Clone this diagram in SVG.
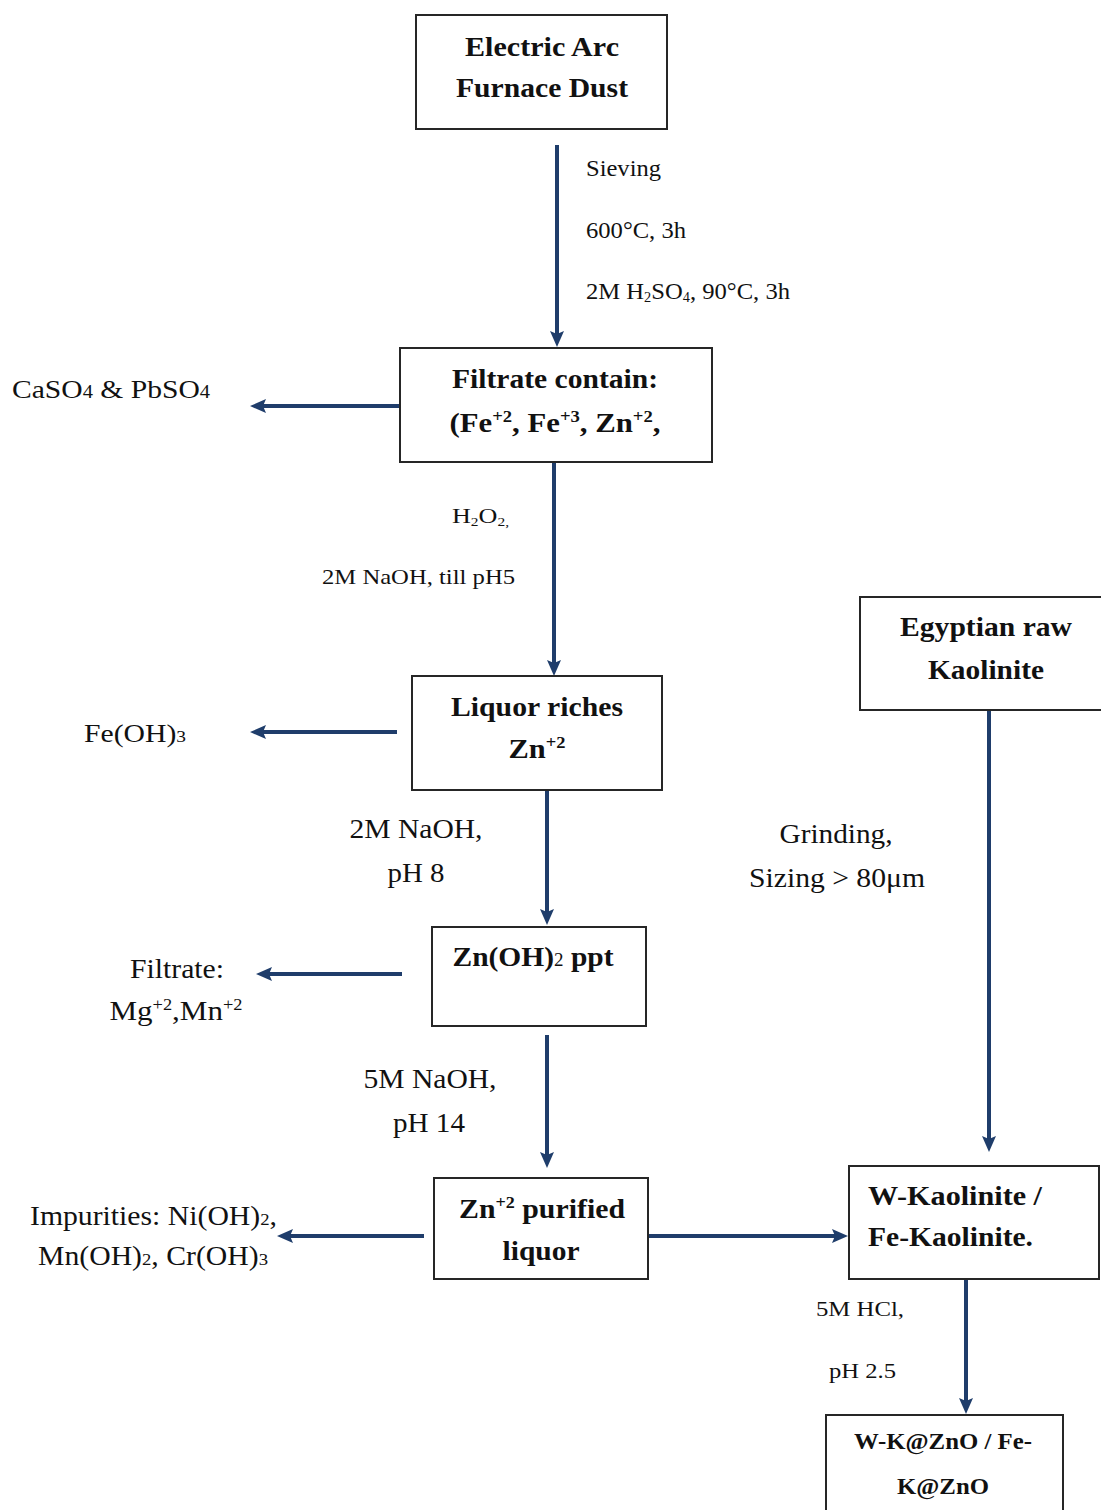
<svg xmlns="http://www.w3.org/2000/svg" width="1101" height="1510" viewBox="0 0 1101 1510">
<style>
.box{fill:#fff;stroke:#262626;stroke-width:2}
.b{font-family:"Liberation Serif","Times New Roman",serif;font-weight:bold;fill:#111}
.r{font-family:"Liberation Serif","Times New Roman",serif;fill:#111}
.c{stroke:#1f3d6b;stroke-width:4;fill:none;marker-end:url(#ah)}
</style>
<defs>
<marker id="ah" markerUnits="userSpaceOnUse" markerWidth="16" markerHeight="16" viewBox="0 0 16 16" refX="6" refY="8" orient="auto">
<path d="M0,1 L16,8 L0,15 L3,8 Z" fill="#1f3d6b"/>
</marker>
</defs>
<rect width="1101" height="1510" fill="#fff"/>

<g id="connectors">
<line class="c" x1="557" y1="145" x2="557" y2="337"/>
<line class="c" x1="400" y1="406" x2="260" y2="406"/>
<line class="c" x1="554" y1="462" x2="554" y2="666"/>
<line class="c" x1="397" y1="732" x2="260" y2="732"/>
<line class="c" x1="547" y1="790" x2="547" y2="915"/>
<line class="c" x1="402" y1="974" x2="266" y2="974"/>
<line class="c" x1="547" y1="1035" x2="547" y2="1158"/>
<line class="c" x1="424" y1="1236" x2="287" y2="1236"/>
<line class="c" x1="640" y1="1236" x2="838" y2="1236"/>
<line class="c" x1="989" y1="705" x2="989" y2="1142"/>
<line class="c" x1="966" y1="1279" x2="966" y2="1404"/>
</g>

<g id="edge-labels">
<text class="r" x="586" y="176" font-size="24" textLength="75" lengthAdjust="spacingAndGlyphs">Sieving</text>
<text class="r" x="586" y="238" font-size="24" textLength="100" lengthAdjust="spacingAndGlyphs">600°C, 3h</text>
<text class="r" x="586" y="299" font-size="24" textLength="204" lengthAdjust="spacingAndGlyphs">2M H<tspan font-size="14" dy="3">2</tspan><tspan dy="-3">SO</tspan><tspan font-size="14" dy="3">4</tspan><tspan dy="-3">, 90°C, 3h</tspan></text>
<text class="r" x="452" y="523" font-size="22" textLength="57" lengthAdjust="spacingAndGlyphs">H<tspan font-size="13" dy="3">2</tspan><tspan dy="-3">O</tspan><tspan font-size="13" dy="3">2,</tspan></text>
<text class="r" x="322" y="584" font-size="22" textLength="193" lengthAdjust="spacingAndGlyphs">2M NaOH, till pH5</text>
<text class="r" x="416" y="838" font-size="28" text-anchor="middle" textLength="133" lengthAdjust="spacingAndGlyphs">2M NaOH,</text>
<text class="r" x="416" y="882" font-size="28" text-anchor="middle" textLength="57" lengthAdjust="spacingAndGlyphs">pH 8</text>
<text class="r" x="430" y="1088" font-size="28" text-anchor="middle" textLength="133" lengthAdjust="spacingAndGlyphs">5M NaOH,</text>
<text class="r" x="429" y="1132" font-size="28" text-anchor="middle" textLength="72" lengthAdjust="spacingAndGlyphs">pH 14</text>
<text class="r" x="836" y="843" font-size="28" text-anchor="middle" textLength="113" lengthAdjust="spacingAndGlyphs">Grinding,</text>
<text class="r" x="837" y="887" font-size="28" text-anchor="middle" textLength="176" lengthAdjust="spacingAndGlyphs">Sizing &gt; 80μm</text>
<text class="r" x="816" y="1316" font-size="22" textLength="88" lengthAdjust="spacingAndGlyphs">5M HCl,</text>
<text class="r" x="829" y="1378" font-size="22" textLength="67" lengthAdjust="spacingAndGlyphs">pH 2.5</text>
</g>

<g id="n-eafd">
<rect class="box" x="416" y="15" width="251" height="114"/>
<text class="b" x="542" y="56" font-size="28" text-anchor="middle" textLength="154" lengthAdjust="spacingAndGlyphs">Electric Arc</text>
<text class="b" x="542" y="97" font-size="28" text-anchor="middle" textLength="172" lengthAdjust="spacingAndGlyphs">Furnace Dust</text>
</g>

<g id="n-filtrate">
<rect class="box" x="400" y="348" width="312" height="114"/>
<text class="b" x="555" y="388" font-size="28" text-anchor="middle" textLength="206" lengthAdjust="spacingAndGlyphs">Filtrate contain:</text>
<text class="b" x="555" y="432" font-size="28" text-anchor="middle" textLength="211" lengthAdjust="spacingAndGlyphs">(Fe<tspan font-size="17" dy="-10">+2</tspan><tspan dy="10">, Fe</tspan><tspan font-size="17" dy="-10">+3</tspan><tspan dy="10">, Zn</tspan><tspan font-size="17" dy="-10">+2</tspan><tspan dy="10">,</tspan></text>
</g>

<g id="n-caso4">
<text class="r" x="12" y="398" font-size="26" textLength="198" lengthAdjust="spacingAndGlyphs">CaSO<tspan font-size="18">4</tspan><tspan> &amp; PbSO</tspan><tspan font-size="18">4</tspan></text>
</g>

<g id="n-liquor">
<rect class="box" x="412" y="676" width="250" height="114"/>
<text class="b" x="537" y="716" font-size="28" text-anchor="middle" textLength="172" lengthAdjust="spacingAndGlyphs">Liquor riches</text>
<text class="b" x="537" y="758" font-size="28" text-anchor="middle" textLength="57" lengthAdjust="spacingAndGlyphs">Zn<tspan font-size="17" dy="-10">+2</tspan></text>
</g>

<g id="n-feoh3">
<text class="r" x="84" y="742" font-size="26" textLength="102" lengthAdjust="spacingAndGlyphs">Fe(OH)<tspan font-size="17">3</tspan></text>
</g>

<g id="n-znoh2">
<rect class="box" x="432" y="927" width="214" height="99"/>
<text class="b" x="533" y="966" font-size="28" text-anchor="middle" textLength="161" lengthAdjust="spacingAndGlyphs">Zn(OH)<tspan font-size="18" font-weight="normal">2</tspan><tspan> ppt</tspan></text>
</g>

<g id="n-filtrate-mg">
<text class="r" x="177" y="978" font-size="27" text-anchor="middle" textLength="94" lengthAdjust="spacingAndGlyphs">Filtrate:</text>
<text class="r" x="176" y="1020" font-size="27" text-anchor="middle" textLength="133" lengthAdjust="spacingAndGlyphs">Mg<tspan font-size="16" dy="-10">+2</tspan><tspan dy="10">,Mn</tspan><tspan font-size="16" dy="-10">+2</tspan></text>
</g>

<g id="n-purified">
<rect class="box" x="434" y="1178" width="214" height="101"/>
<text class="b" x="542" y="1218" font-size="28" text-anchor="middle" textLength="166" lengthAdjust="spacingAndGlyphs">Zn<tspan font-size="17" dy="-10">+2</tspan><tspan dy="10"> purified</tspan></text>
<text class="b" x="541" y="1260" font-size="28" text-anchor="middle" textLength="77" lengthAdjust="spacingAndGlyphs">liquor</text>
</g>

<g id="n-impurities">
<text class="r" x="30" y="1225" font-size="27" textLength="247" lengthAdjust="spacingAndGlyphs">Impurities: Ni(OH)<tspan font-size="17">2</tspan><tspan>,</tspan></text>
<text class="r" x="38" y="1265" font-size="27" textLength="230" lengthAdjust="spacingAndGlyphs">Mn(OH)<tspan font-size="17">2</tspan><tspan>, Cr(OH)</tspan><tspan font-size="17">3</tspan></text>
</g>

<g id="n-kaolinite">
<rect class="box" x="860" y="597" width="250" height="113"/>
<text class="b" x="986" y="636" font-size="28" text-anchor="middle" textLength="172" lengthAdjust="spacingAndGlyphs">Egyptian raw</text>
<text class="b" x="986" y="679" font-size="28" text-anchor="middle" textLength="116" lengthAdjust="spacingAndGlyphs">Kaolinite</text>
</g>

<g id="n-wkaolinite">
<rect class="box" x="849" y="1166" width="250" height="113"/>
<text class="b" x="868" y="1205" font-size="28" textLength="174" lengthAdjust="spacingAndGlyphs">W-Kaolinite /</text>
<text class="b" x="868" y="1246" font-size="28" textLength="165" lengthAdjust="spacingAndGlyphs">Fe-Kaolinite.</text>
</g>

<g id="n-product">
<rect class="box" x="826" y="1415" width="237" height="110"/>
<text class="b" x="943" y="1449" font-size="23" text-anchor="middle" textLength="178" lengthAdjust="spacingAndGlyphs">W-K@ZnO / Fe-</text>
<text class="b" x="943" y="1494" font-size="23" text-anchor="middle" textLength="92" lengthAdjust="spacingAndGlyphs">K@ZnO</text>
</g>
</svg>
